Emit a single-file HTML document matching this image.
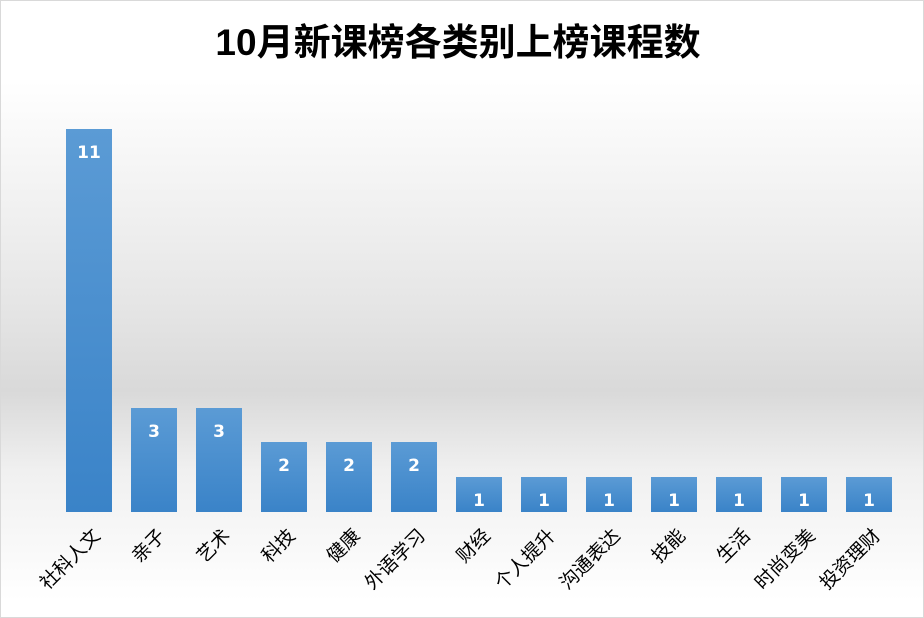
<!DOCTYPE html>
<html><head><meta charset="utf-8"><style>
body{margin:0;width:924px;height:618px;overflow:hidden;font-family:"Liberation Sans","Noto Sans CJK SC",sans-serif}
#c{position:absolute;left:0;top:0;width:922px;height:616px;border:1px solid #d9d9d9;background:linear-gradient(to bottom,#fff 0px,#fff 80px,#e6e6e6 300px,#d9d9d9 390px,#f0f0f0 470px,#fff 600px)}
h1{position:absolute;left:-4px;width:924px;top:12px;margin:0;text-align:center;font-size:37px;font-weight:bold;color:#000;font-family:"Liberation Sans","Noto Sans CJK SC",sans-serif}
.b{position:absolute;width:46px;background:linear-gradient(to bottom,#5b9bd5,#3a83c8);color:#fff;font-weight:bold;font-size:17px;text-align:center;font-family:"DejaVu Sans",sans-serif}
.b span{position:absolute;left:0;right:0;top:14px}
.l{position:absolute;font-size:19px;white-space:nowrap;transform-origin:100% 50%;transform:rotate(-45deg);color:#000;text-align:right}
</style></head><body><div id="c"></div>
<h1>10月新课榜各类别上榜课程数</h1>
<div id="bars"></div>
<script>
var d=[["社科人文",11],["亲子",3],["艺术",3],["科技",2],["健康",2],["外语学习",2],["财经",1],["个人提升",1],["沟通表达",1],["技能",1],["生活",1],["时尚变美",1],["投资理财",1]];
var h="";d.forEach(function(e,i){var x=66+i*65,ht=e[1]*34.8,t=512-ht;
h+='<div class="b" style="left:'+x+'px;top:'+t+'px;height:'+ht+'px"><span>'+e[1]+'</span></div>';
h+='<div class="l" style="right:'+(924-(x+30))+'px;top:518px">'+e[0]+'</div>';});
document.getElementById("bars").innerHTML=h;
</script></body></html>
